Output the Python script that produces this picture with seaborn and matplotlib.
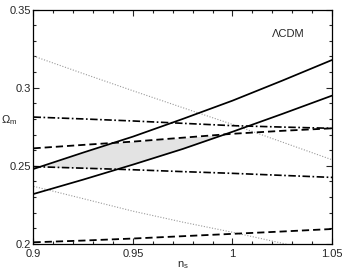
import numpy as np
import pandas as pd
import matplotlib
matplotlib.use("Agg")
import matplotlib.pyplot as plt
import seaborn as sns
from matplotlib.ticker import MultipleLocator

ns = [0.9, 0.925, 0.95, 0.975, 1.0, 1.025, 1.05]
solid_upper = [0.248, 0.2585, 0.2687, 0.2800, 0.2917, 0.3045, 0.3177]
solid_lower = [0.232, 0.2412, 0.2508, 0.2608, 0.2718, 0.2832, 0.2949]
dashed_upper = [0.2612, 0.2634, 0.2655, 0.2680, 0.2705, 0.2724, 0.2740]
dashed_lower = [0.2011, 0.2022, 0.2035, 0.2050, 0.2065, 0.2080, 0.2096]
dashdot_upper = [0.2812, 0.2800, 0.2787, 0.2772, 0.2757, 0.2748, 0.2740]
dashdot_lower = [0.2495, 0.2485, 0.2475, 0.2463, 0.2452, 0.2439, 0.2426]
dotted_upper = [0.3202, 0.3090, 0.2980, 0.2872, 0.2765, 0.2652, 0.2539]
dotted_lower = [0.2369, 0.2290, 0.2210, 0.2140, 0.2075, 0.2005, 0.1935]

sns.set_theme(style="ticks")
plt.rcParams['font.family'] = ['Liberation Sans', 'DejaVu Sans']
plt.rcParams['mathtext.fontset'] = 'custom'
plt.rcParams['mathtext.rm'] = 'Liberation Sans'
plt.rcParams['mathtext.it'] = 'Liberation Sans'

fig = plt.figure(figsize=(3.46, 2.73), dpi=100)
ax = fig.add_axes([0.0968, 0.1062, 0.8627, 0.8590])

# shaded intersection region (derived from the series)
xf = np.linspace(ns[0], ns[-1], 600)
lo = np.maximum(np.interp(xf, ns, solid_lower), np.interp(xf, ns, dashdot_lower))
hi = np.minimum(np.interp(xf, ns, solid_upper), np.interp(xf, ns, dashed_upper))
ax.fill_between(xf, lo, hi, where=hi > lo, color="#e3e3e3", lw=0, zorder=1)

def draw(y, **kw):
    sns.lineplot(x=ns, y=y, ax=ax, **kw)

draw(dotted_upper, color="#9a9a9a", lw=0.8, linestyle=(0, (1, 1.5)))
draw(dotted_lower, color="#9a9a9a", lw=0.8, linestyle=(0, (1, 1.5)))
draw(dashed_upper, color="black", lw=1.3, linestyle=(0, (4, 2.2)))
draw(dashed_lower, color="black", lw=1.3, linestyle=(0, (4, 2.2)))
draw(dashdot_upper, color="black", lw=1.2, linestyle=(0, (4.5, 1.5, 1, 1.5)))
draw(dashdot_lower, color="black", lw=1.2, linestyle=(0, (4.5, 1.5, 1, 1.5)))
draw(solid_upper, color="black", lw=1.25)
draw(solid_lower, color="black", lw=1.25)

ax.set_xlim(0.9, 1.05)
ax.set_ylim(0.2, 0.35)
ax.xaxis.set_major_locator(MultipleLocator(0.05))
ax.xaxis.set_minor_locator(MultipleLocator(0.01))
ax.yaxis.set_major_locator(MultipleLocator(0.05))
ax.yaxis.set_minor_locator(MultipleLocator(0.01))
ax.set_xticks([0.9, 0.95, 1.0, 1.05])
ax.set_xticklabels(["0.9", "0.95", "1", "1.05"])
ax.set_yticks([0.2, 0.25, 0.3, 0.35])
ax.set_yticklabels(["0.2", "0.25", "0.3", "0.35"])
ax.tick_params(which="both", direction="in", top=True, right=True, width=0.8, labelsize=8)
ax.tick_params(axis="x", pad=3.5)
ax.tick_params(axis="y", pad=2)
ax.tick_params(which="major", length=4)
ax.tick_params(which="minor", length=2)
for s in ax.spines.values():
    s.set_linewidth(0.9)
    s.set_color("black")

ax.set_xlabel(r"n$_{\rm s}$", fontsize=8, labelpad=0)
ax.set_ylabel(r"$\Omega_{\rm m}$", fontsize=8, rotation=0, labelpad=6)
ax.yaxis.set_label_coords(-0.08, 0.5)
ax.text(0.855, 0.895, "ΛCDM", transform=ax.transAxes, fontsize=8, ha="center", va="center")

fig.savefig("out.png", dpi=100)
